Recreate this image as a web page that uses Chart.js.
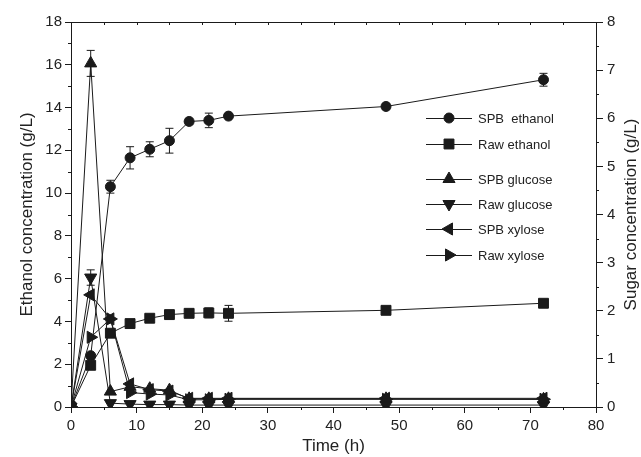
<!DOCTYPE html>
<html>
<head>
<meta charset="utf-8">
<script src="https://cdn.jsdelivr.net/npm/chart.js@4.4.1/dist/chart.umd.min.js"></script>
<style>
  html, body { margin: 0; padding: 0; background: #fff; }
  #wrap { width: 641px; height: 457px; }
</style>
</head>
<body>
<div id="wrap"><canvas id="fermChart" width="641" height="457"></canvas></div>

<script>
  // sampling times (h)
  const time = [0, 3, 6, 9, 12, 15, 18, 21, 24, 48, 72];

  // ethanol, left axis (g/L)
  const spbEthanol    = [0, 2.4, 10.3, 11.65, 12.05, 12.45, 13.35, 13.4, 13.6, 14.05, 15.3];
  const spbEthanolErr = [0, 0, 0.3, 0.52, 0.35, 0.58, 0.15, 0.34, 0.1, 0.15, 0.3];
  const rawEthanol    = [0, 1.95, 3.45, 3.9, 4.15, 4.32, 4.38, 4.4, 4.38, 4.52, 4.85];
  const rawEthanolErr = [0, 0, 0, 0, 0, 0, 0, 0.23, 0.37, 0, 0];

  // sugars, right axis (g/L)
  const spbGlucose    = [0, 7.14, 0.32, 0.42, 0.38, 0.35, 0.17, 0.17, 0.17, 0.17, 0.16];
  const spbGlucoseErr = [0, 0.27, 0, 0, 0, 0, 0, 0, 0, 0, 0];
  const rawGlucose    = [0, 2.69, 0.08, 0.06, 0.05, 0.05, 0.04, 0.04, 0.04, 0.04, 0.04];
  const rawGlucoseErr = [0, 0.16, 0, 0, 0, 0, 0, 0, 0, 0, 0];
  const spbXylose     = [0, 2.33, 1.83, 0.48, 0.36, 0.33, 0.18, 0.18, 0.18, 0.18, 0.18];
  const rawXylose     = [0, 1.45, 1.83, 0.3, 0.27, 0.25, 0.15, 0.15, 0.16, 0.16, 0.16];

  const legendLabels = ['SPB  ethanol', 'Raw ethanol', 'SPB glucose', 'Raw glucose', 'SPB xylose', 'Raw xylose'];

  const INK = '#1a1a1a';
  const FONT = "'Liberation Sans', Arial, sans-serif";

  function pts(ys) {
    return time.map((t, i) => ({ x: t, y: ys[i] }));
  }

  function series(label, ys, err, axis, style, rotation, radius) {
    return {
      label: label,
      data: pts(ys),
      err: err,
      yAxisID: axis,
      showLine: true,
      borderColor: INK,
      borderWidth: 1,
      backgroundColor: INK,
      pointBackgroundColor: INK,
      pointBorderColor: INK,
      pointBorderWidth: 1,
      pointStyle: style,
      rotation: rotation,
      pointRadius: radius,
      pointHoverRadius: radius
    };
  }

  // error bars with caps
  const errorBars = {
    id: 'errorBars',
    beforeDatasetsDraw(chart) {
      const ctx = chart.ctx;
      ctx.save();
      ctx.strokeStyle = INK;
      ctx.lineWidth = 1;
      chart.data.datasets.forEach(ds => {
        if (!ds.err) return;
        const ys = chart.scales[ds.yAxisID];
        ds.data.forEach((p, i) => {
          const e = ds.err[i];
          if (!e) return;
          const x = chart.scales.x.getPixelForValue(p.x);
          const top = ys.getPixelForValue(p.y + e);
          const bot = ys.getPixelForValue(p.y - e);
          ctx.beginPath();
          ctx.moveTo(x, top); ctx.lineTo(x, bot);
          ctx.moveTo(x - 4, top); ctx.lineTo(x + 4, top);
          ctx.moveTo(x - 4, bot); ctx.lineTo(x + 4, bot);
          ctx.stroke();
        });
      });
      ctx.restore();
    }
  };

  // top frame line, minor ticks, right title, legend
  const decor = {
    id: 'decor',
    afterDraw(chart) {
      const ctx = chart.ctx;
      const a = chart.chartArea;
      const xs = chart.scales.x, yl = chart.scales.y, yr = chart.scales.y2;
      ctx.save();
      ctx.strokeStyle = INK;
      ctx.lineWidth = 1;
      ctx.beginPath();
      ctx.moveTo(a.left, a.top + 0.5); ctx.lineTo(a.right, a.top + 0.5);
      for (let v = 5; v < 80; v += 5) {
        const px = Math.round(xs.getPixelForValue(v)) + 0.5;
        ctx.moveTo(px, a.top); ctx.lineTo(px, a.top + 3);
        if (v % 10) { ctx.moveTo(px, a.bottom); ctx.lineTo(px, a.bottom + 3); }
      }
      for (let v = 1; v < 18; v += 2) {
        const py = Math.round(yl.getPixelForValue(v)) + 0.5;
        ctx.moveTo(a.left, py); ctx.lineTo(a.left - 3, py);
      }
      for (let v = 0.5; v < 8; v += 1) {
        const py = Math.round(yr.getPixelForValue(v)) + 0.5;
        ctx.moveTo(a.right, py); ctx.lineTo(a.right + 3, py);
      }
      ctx.stroke();

      // right axis title reads bottom to top
      ctx.fillStyle = '#222';
      ctx.font = '17px ' + FONT;
      ctx.textAlign = 'center';
      ctx.textBaseline = 'middle';
      ctx.translate(631, (a.top + a.bottom) / 2);
      ctx.rotate(-Math.PI / 2);
      ctx.fillText('Sugar concentration (g/L)', 0, 0);
      ctx.restore();

      // legend inside the plot
      const rows = [118, 144, 179, 204, 229, 255];
      ctx.save();
      ctx.font = '13px ' + FONT;
      ctx.textAlign = 'left';
      ctx.textBaseline = 'middle';
      chart.data.datasets.forEach((ds, i) => {
        const y = rows[i];
        ctx.strokeStyle = INK;
        ctx.fillStyle = INK;
        ctx.lineWidth = 1;
        ctx.beginPath();
        ctx.moveTo(426, y + 0.5); ctx.lineTo(472, y + 0.5);
        ctx.stroke();
        Chart.helpers.drawPoint(ctx, {
          pointStyle: ds.pointStyle,
          rotation: ds.rotation,
          radius: ds.pointRadius,
          borderWidth: 1
        }, 449, y);
        ctx.fillStyle = '#222';
        ctx.fillText(legendLabels[i], 478, y + 1);
      });
      ctx.restore();
    }
  };

  const ctx = document.getElementById('fermChart').getContext('2d');
  new Chart(ctx, {
    type: 'scatter',
    data: {
      datasets: [
        series('SPB ethanol', spbEthanol, spbEthanolErr, 'y', 'circle', 0, 5),
        series('Raw ethanol', rawEthanol, rawEthanolErr, 'y', 'rect', 0, 7),
        series('SPB glucose', spbGlucose, spbGlucoseErr, 'y2', 'triangle', 0, 7),
        series('Raw glucose', rawGlucose, rawGlucoseErr, 'y2', 'triangle', 180, 7),
        series('SPB xylose', spbXylose, null, 'y2', 'triangle', 270, 7),
        series('Raw xylose', rawXylose, null, 'y2', 'triangle', 90, 7)
      ]
    },
    options: {
      responsive: false,
      animation: false,
      devicePixelRatio: 1,
      layout: { padding: { top: 22, left: 0, right: 0, bottom: 0 } },
      plugins: {
        legend: { display: false },
        tooltip: { enabled: false }
      },
      scales: {
        x: {
          type: 'linear',
          min: 0, max: 80,
          ticks: { stepSize: 10, color: '#222', font: { family: FONT, size: 15 }, padding: 4, maxRotation: 0 },
          grid: { drawOnChartArea: false, tickLength: 6, tickColor: INK },
          border: { color: INK, width: 1 },
          title: { display: true, text: 'Time (h)', color: '#222', font: { family: FONT, size: 17 }, padding: { top: 0, bottom: 0 } },
          afterFit(s) { s.height = 50; }
        },
        y: {
          position: 'left',
          min: 0, max: 18,
          ticks: { stepSize: 2, color: '#222', font: { family: FONT, size: 15 }, padding: 3 },
          grid: { drawOnChartArea: false, tickLength: 6, tickColor: INK },
          border: { color: INK, width: 1 },
          title: { display: true, text: 'Ethanol concentration (g/L)', color: '#222', font: { family: FONT, size: 17 }, padding: { top: 17, bottom: 0 } },
          afterFit(s) { s.width = 71; }
        },
        y2: {
          position: 'right',
          min: 0, max: 8,
          ticks: { stepSize: 1, color: '#222', font: { family: FONT, size: 15 }, padding: 4 },
          grid: { drawOnChartArea: false, tickLength: 7, tickColor: INK },
          border: { color: INK, width: 1 },
          title: { display: false },
          afterFit(s) { s.width = 45; }
        }
      }
    },
    plugins: [errorBars, decor]
  });
</script>
</body>
</html>
